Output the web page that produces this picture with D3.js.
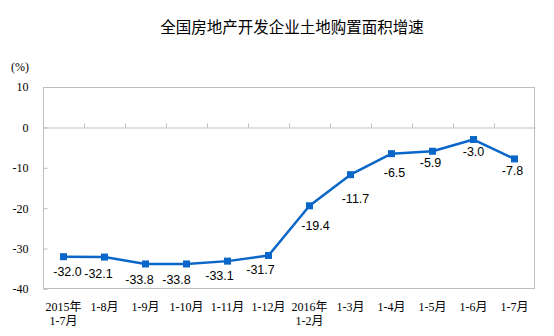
<!DOCTYPE html>
<html>
<head>
<meta charset="utf-8">
<script src="https://cdn.jsdelivr.net/npm/d3@7"></script>
<style>
  html, body { margin: 0; padding: 0; background: #fff; }
  svg { display: block; }
</style>
</head>
<body>
<svg id="chart" width="554" height="336"></svg>
<script>
// Period labels (two-line labels split on "\n")
const categories = [
  "2015年\n1-7月", "1-8月", "1-9月", "1-10月", "1-11月", "1-12月",
  "2016年\n1-2月", "1-3月", "1-4月", "1-5月", "1-6月", "1-7月"
];
// Year-on-year growth of land purchase area (%)
const growth = [-32.0, -32.1, -33.8, -33.8, -33.1, -31.7, -19.4, -11.7, -6.5, -5.9, -3.0, -7.8];
const yTicks = [10, 0, -10, -20, -30, -40];
const titleText = "全国房地产开发企业土地购置面积增速";
const unitText = "(%)";

// Per-label nudges for the value labels [dx, dy] relative to each point
const labelNudge = [
  [4, 15], [-6, 17], [-6, 16], [-10, 16], [-8, 15], [-8, 15],
  [6, 20], [5, 24], [3, 19], [-2, 12], [0, 12], [-2, 12]
];

const svg = d3.select("#chart");
const plot = { left: 43, right: 535, top: 87, bottom: 289 };
const serif = "'Liberation Serif', 'Noto Sans CJK SC', serif";
const sans = "'Liberation Sans', Arial, sans-serif";
const lineColor = "#0a66c8";
const gridColor = "#bfbfbf";

// Plain hyphen-minus formatting
const fmtInt = v => d3.format("d")(v).replace("\u2212", "-");
const fmt1 = v => d3.format(".1f")(v).replace("\u2212", "-");

const x = d3.scaleBand().domain(categories).range([plot.left, plot.right]).padding(0);
const y = d3.scaleLinear().domain([-40, 10]).range([plot.bottom, plot.top]);
const cx = d => x(d) + x.bandwidth() / 2;

// Title
svg.append("text")
  .attr("x", 292).attr("y", 33)
  .attr("text-anchor", "middle")
  .style("font-family", "'Noto Sans CJK SC', sans-serif")
  .style("font-size", "15.5px")
  .attr("fill", "#000")
  .text(titleText);

// Unit label
svg.append("text")
  .attr("x", 11).attr("y", 71)
  .style("font-family", serif)
  .style("font-size", "12px")
  .attr("fill", "#000")
  .text(unitText);

// Plot frame
svg.append("rect")
  .attr("x", plot.left + 0.5).attr("y", plot.top + 0.5)
  .attr("width", plot.right - plot.left - 1).attr("height", plot.bottom - plot.top - 1)
  .attr("fill", "none").attr("stroke", gridColor).attr("stroke-width", 1);

// Left axis: inward ticks and labels
const yAxis = d3.axisLeft(y).tickValues(yTicks).tickSize(-4).tickPadding(15).tickFormat(fmtInt);
const yg = svg.append("g").attr("transform", `translate(${plot.left + 0.5},0)`).call(yAxis);
yg.select(".domain").remove();
yg.selectAll(".tick line").attr("stroke", gridColor);
yg.selectAll(".tick text")
  .style("font-family", serif).style("font-size", "12px").attr("fill", "#000");

// Zero line with category tick marks pointing up
const xAxis = d3.axisTop(x).tickSize(0).tickFormat("");
const zg = svg.append("g").attr("transform", `translate(0,${Math.round(y(0)) + 0.5})`).call(xAxis);
zg.select(".domain").attr("stroke", gridColor);
zg.selectAll(".tick").remove();
zg.selectAll(".bound")
  .data(categories.slice(1))
  .enter().append("line")
  .attr("class", "bound")
  .attr("x1", d => Math.round(x(d)) + 0.5).attr("x2", d => Math.round(x(d)) + 0.5)
  .attr("y1", 0).attr("y2", -4)
  .attr("stroke", gridColor);

// Category labels under the frame
const catG = svg.append("g");
categories.forEach(c => {
  const t = catG.append("text")
    .attr("x", cx(c)).attr("y", 311)
    .attr("text-anchor", "middle")
    .style("font-family", serif)
    .style("font-size", "12px")
    .attr("fill", "#000");
  c.split("\n").forEach((part, i) => {
    t.append("tspan").attr("x", cx(c)).attr("dy", i === 0 ? 0 : 14).text(part);
  });
});

// Series line
const line = d3.line().x((d, i) => cx(categories[i])).y(d => y(d));
svg.append("path")
  .datum(growth)
  .attr("d", line)
  .attr("fill", "none")
  .attr("stroke", lineColor)
  .attr("stroke-width", 2.5)
  .attr("stroke-linejoin", "round");

// Square markers
svg.selectAll(".marker")
  .data(growth)
  .enter().append("rect")
  .attr("class", "marker")
  .attr("x", (d, i) => cx(categories[i]) - 3.5)
  .attr("y", d => y(d) - 3.5)
  .attr("width", 7).attr("height", 7)
  .attr("fill", lineColor);

// Value labels
svg.selectAll(".val")
  .data(growth)
  .enter().append("text")
  .attr("class", "val")
  .attr("x", (d, i) => cx(categories[i]) + labelNudge[i][0])
  .attr("y", (d, i) => y(d) + labelNudge[i][1] + 4)
  .attr("text-anchor", "middle")
  .style("font-family", sans)
  .style("font-size", "12.5px")
  .attr("fill", "#000")
  .text(d => fmt1(d));
</script>
</body>
</html>
